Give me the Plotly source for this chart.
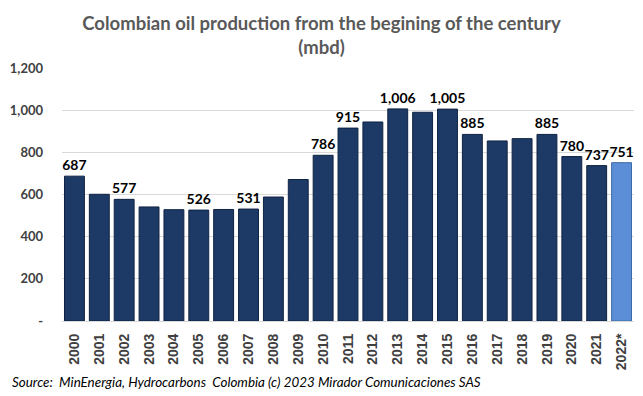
import plotly.graph_objects as go

years = ["2000", "2001", "2002", "2003", "2004", "2005", "2006", "2007", "2008", "2009",
         "2010", "2011", "2012", "2013", "2014", "2015", "2016", "2017", "2018", "2019",
         "2020", "2021", "2022*"]
production = [687, 601, 577, 541, 528, 526, 529, 531, 588, 671,
              786, 915, 944, 1006, 990, 1005, 885, 854, 865, 885,
              780, 737, 751]
labels = ["687", "", "577", "", "", "526", "", "531", "", "",
          "786", "915", "", "1,006", "", "1,005", "885", "", "", "885",
          "780", "737", "751"]
y_tickvals = [0, 200, 400, 600, 800, 1000, 1200]
y_ticktext = ["-", "200", "400", "600", "800", "1,000", "1,200"]

colors = ["#1d3a66"] * (len(years) - 1) + ["#5b8ed6"]
line_colors = ["#0f2242"] * (len(years) - 1) + ["#3d6aa8"]

fig = go.Figure()
fig.add_trace(go.Bar(
    x=years, y=production,
    text=labels, textposition="outside", cliponaxis=False,
    constraintext="none",
    textfont=dict(family="Lato, Liberation Sans, sans-serif", size=14, color="#000000", weight="bold"),
    marker=dict(color=colors, line=dict(color=line_colors, width=1)),
    hoverinfo="x+y",
))

fig.update_layout(
    width=643, height=396,
    margin=dict(l=62, r=9, t=68, b=75),
    paper_bgcolor="white", plot_bgcolor="white",
    bargap=0.2,
    showlegend=False,
    title=dict(
        text="Colombian oil production from the begining of the century<br>(mbd)",
        x=0.5, xanchor="center", y=0.925, yanchor="top",
        font=dict(family="Lato, Liberation Sans, sans-serif", size=18.5, color="#595959", weight="bold"),
    ),
    xaxis=dict(
        tickangle=-90, automargin=False,
        tickfont=dict(family="Liberation Sans, Arial, sans-serif", size=14, color="#404040", weight="bold"),
        showline=True, linecolor="#d9d9d9", linewidth=1,
        ticks="", ticklabelstandoff=6,
    ),
    yaxis=dict(
        range=[0, 1200], automargin=False,
        tickvals=y_tickvals, ticktext=y_ticktext,
        tickfont=dict(family="Lato, Liberation Sans, sans-serif", size=13, color="#404040", weight="bold"),
        gridcolor="#d9d9d9", gridwidth=1,
        zeroline=False, ticks="", ticklabelstandoff=18,
    ),
    annotations=[dict(
        text="<i>Source:  MinEnergia, Hydrocarbons  Colombia (c) 2023 Mirador Comunicaciones SAS</i>",
        xref="paper", yref="paper", x=-0.091, y=-0.24, xanchor="left", yanchor="middle",
        showarrow=False,
        font=dict(family="Lato, Liberation Sans, sans-serif", size=13.4, color="#000000"),
    )],
)

fig.write_html("out.html", config={"displayModeBar": False},
               post_script="document.body.style.margin='0';")
